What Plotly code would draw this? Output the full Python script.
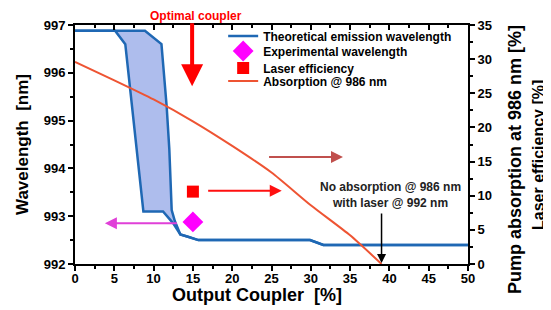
import plotly.graph_objects as go

# ---- data ----
# Theoretical emission wavelength band: lower (left) and upper (right) edges
band_lower_x = [0, 5.1, 6.4, 7.0, 7.9, 8.7, 11.2, 12.5, 13.4, 14.4, 15.7, 29.9, 31.6, 50]
band_lower_y = [996.88, 996.88, 996.6, 995.68, 994.4, 993.1, 993.1, 992.85, 992.62, 992.57, 992.5, 992.5, 992.4, 992.4]
band_upper_x = [0, 8.9, 11.0, 11.66, 12.0, 12.3, 12.7, 13.4, 14.4, 15.7, 29.9, 31.6, 50]
band_upper_y = [996.88, 996.88, 996.6, 995.3, 994.4, 993.13, 992.9, 992.62, 992.57, 992.5, 992.5, 992.4, 992.4]

# Experimental wavelength
exp_x = [15]
exp_y = [992.88]

# Laser efficiency (right axis, %)
eff_x = [15]
eff_y = [10.6]

# Absorption @ 986 nm (right axis, %)
abs_x = [0, 5, 10, 15, 20, 25, 30, 35, 39]
abs_y = [29.6, 26.9, 24.1, 20.9, 17.3, 13.4, 8.6, 4.2, 0]

x_ticks = [0, 5, 10, 15, 20, 25, 30, 35, 40, 45, 50]
y_ticks = [992, 993, 994, 995, 996, 997]
y2_ticks = [0, 5, 10, 15, 20, 25, 30, 35]

FONT = "Arial, Liberation Sans, sans-serif"
BLUE = "#1f68b4"
FILL = "rgba(120,145,225,0.6)"
ABS = "#ee5433"

# page body has an 8px default margin; the figure is sized so the
# plot area lands where the reference has it (x 75..468, y 25..264)
OFF = 8
W, H = 551 - OFF, 310 - OFF
ML, MT, MR, MB = 75 - OFF, 25 - OFF, 551 - 468, 310 - 264


def px_x(p):  # window pixel -> paper x
    return (p - 75) / 393


def px_y(p):  # window pixel -> paper y
    return (264 - p) / 239


fig = go.Figure()

fig.add_trace(go.Scatter(
    x=band_lower_x, y=band_lower_y, mode="lines",
    line=dict(color=BLUE, width=2.5),
    name="Theoretical emission wavelength", legendgroup="band", legend="legend",
    xaxis="x", yaxis="y"))
fig.add_trace(go.Scatter(
    x=band_upper_x, y=band_upper_y, mode="lines", fill="tonexty",
    fillcolor=FILL, line=dict(color=BLUE, width=2.5),
    name="upper", legendgroup="band", showlegend=False,
    xaxis="x", yaxis="y"))
fig.add_trace(go.Scatter(
    x=exp_x, y=exp_y, mode="markers",
    marker=dict(symbol="diamond", size=16, color="#ff00ff"),
    name="Experimental wavelength", legend="legend2", xaxis="x", yaxis="y"))
fig.add_trace(go.Scatter(
    x=eff_x, y=eff_y, mode="markers",
    marker=dict(symbol="square", size=12, color="#ff0000"),
    name="Laser efficiency", legend="legend3", xaxis="x2", yaxis="y2"))
fig.add_trace(go.Scatter(
    x=abs_x, y=abs_y, mode="lines", line=dict(color=ABS, width=2, shape="spline", smoothing=0.6),
    name="Absorption @ 986 nm", legend="legend4", xaxis="x2", yaxis="y2"))

axis_common = dict(showgrid=False, zeroline=False, showline=True, automargin=False,
                   linecolor="black", linewidth=2,
                   tickcolor="black", tickwidth=2, ticklen=5,
                   tickfont=dict(family=FONT, size=13, color="black", weight="bold"))


def leg(pix_y):
    return dict(x=0.377, y=px_y(pix_y), xanchor="left", yanchor="middle",
                bgcolor="rgba(0,0,0,0)", borderwidth=0,
                font=dict(family=FONT, size=12, color="black", weight="bold"))


fig.update_layout(
    width=W, height=H,
    margin=dict(l=ML, r=MR, t=MT, b=MB, autoexpand=False),
    paper_bgcolor="white", plot_bgcolor="white",
    font=dict(family=FONT, color="black"),
    showlegend=True,
    legend=leg(36), legend2=leg(51), legend3=leg(68), legend4=leg(81),
    xaxis=dict(range=[0, 50], tickvals=x_ticks, ticks="outside", ticklabelstandoff=-4,
               minor=dict(dtick=2.5, ticks="outside", ticklen=3, tickwidth=2, tickcolor="black"),
               anchor="y", **axis_common),
    xaxis2=dict(range=[0, 50], tickvals=x_ticks, ticks="inside", showticklabels=False,
                minor=dict(dtick=2.5, ticks="inside", ticklen=3, tickwidth=2, tickcolor="black"),
                overlaying="x", side="top", anchor="y2", **axis_common),
    yaxis=dict(range=[992, 997], tickvals=y_ticks, ticks="outside",
               minor=dict(dtick=0.5, ticks="outside", ticklen=3, tickwidth=2, tickcolor="black"),
               title=dict(text="Wavelength  [nm]", standoff=11,
                          font=dict(family=FONT, size=17, color="black", weight="bold")),
               anchor="x", **axis_common),
    yaxis2=dict(range=[0, 35], tickvals=y2_ticks, ticks="outside",
                minor=dict(dtick=2.5, ticks="outside", ticklen=3, tickwidth=2, tickcolor="black"),
                overlaying="y", side="right", anchor="x2", **axis_common),
)

# x-axis title (positioned as in the reference)
fig.add_annotation(text="<b>Output Coupler  [%]</b>", xref="paper", yref="paper",
                   x=px_x(257), y=px_y(295), xanchor="center", yanchor="middle", borderpad=0,
                   showarrow=False, font=dict(family=FONT, size=18, color="black"))

# right-axis titles (two rotated lines)
fig.add_annotation(text="<b>Pump absorption at 986 nm [%]</b>", xref="paper", yref="paper",
                   x=px_x(515), y=px_y(160), xanchor="center", yanchor="middle",
                   textangle=-90, showarrow=False, font=dict(family=FONT, size=18, color="black"))
fig.add_annotation(text="<b>Laser efficiency [%]</b>", xref="paper", yref="paper",
                   x=px_x(538), y=px_y(155), xanchor="center", yanchor="middle",
                   textangle=-90, showarrow=False, font=dict(family=FONT, size=16, color="black"))

# Optimal coupler label + down arrow
fig.add_annotation(text="<b>Optimal coupler</b>", xref="x", yref="paper",
                   x=15.4, y=px_y(8), xanchor="center", yanchor="top", borderpad=0,
                   showarrow=False, font=dict(family=FONT, size=12, color="#ff0000"))
fig.add_annotation(x=14.9, y=995.72, ax=14.9, ay=997.07, xref="x", yref="y", axref="x", ayref="y",
                   text="", showarrow=True, arrowhead=2, arrowsize=1.1, arrowwidth=4,
                   arrowcolor="#ff0000")

# horizontal arrows
fig.add_annotation(x=3.8, y=992.85, ax=13.15, ay=992.85, xref="x", yref="y", axref="x", ayref="y",
                   text="", showarrow=True, arrowhead=2, arrowsize=1.2, arrowwidth=2,
                   arrowcolor="#e040d8")
fig.add_annotation(x=26.3, y=993.53, ax=16.75, ay=993.53, xref="x", yref="y", axref="x", ayref="y",
                   text="", showarrow=True, arrowhead=2, arrowsize=1.2, arrowwidth=2,
                   arrowcolor="#ff1010")
fig.add_annotation(x=34.1, y=994.24, ax=24.5, ay=994.24, xref="x", yref="y", axref="x", ayref="y",
                   text="", showarrow=True, arrowhead=2, arrowsize=1.2, arrowwidth=2,
                   arrowcolor="#c0504d")

# No absorption note + arrow
fig.add_annotation(text="<b>No absorption @ 986 nm<br>with laser @ 992 nm</b>", xref="x", yref="y",
                   x=40.2, y=992 + (264 - 194.5) / 47.8, xanchor="center", yanchor="middle",
                   showarrow=False, font=dict(family=FONT, size=12, color="#222222"))
fig.add_annotation(x=39.0, y=992.02, ax=39.0, ay=993.09, xref="x", yref="y", axref="x", ayref="y",
                   text="", showarrow=True, arrowhead=2, arrowsize=1.2, arrowwidth=1.5,
                   arrowcolor="black")

fig.write_html("out.html")
